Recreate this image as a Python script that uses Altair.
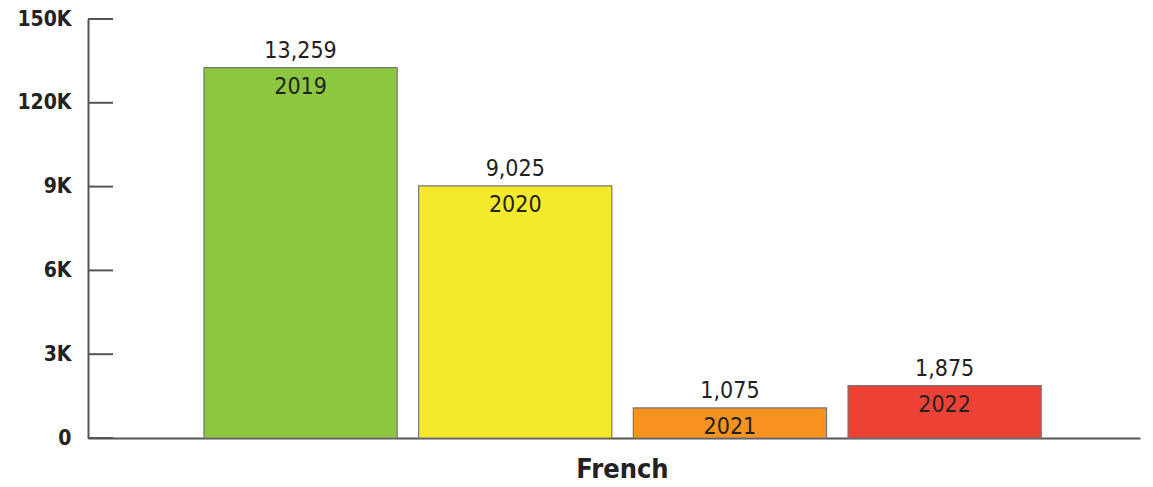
import altair as alt
import pandas as pd

years = ["2019", "2020", "2021", "2022"]
values = [13259, 9025, 1075, 1875]
colors = ["#8DC63F", "#F4E92B", "#F7931E", "#EE4136"]
tick_values = [0, 3000, 6000, 9000, 12000, 15000]
tick_labels = ["0", "3K", "6K", "9K", "120K", "150K"]
category = "French"

FONT = "Liberation Sans Narrow, DejaVu Sans Condensed, Roboto, sans-serif"

df = pd.DataFrame({"year": years, "value": values})
df["label"] = [f"{v:,}" for v in values]
ticks = pd.DataFrame({"t": tick_values})

expr = "''"
for v, l in zip(reversed(tick_values), reversed(tick_labels)):
    expr = f"datum.value == {v} ? '{l}' : ({expr})"

yscale = alt.Scale(domain=[0, 15000], nice=False)

base = alt.Chart(df).encode(
    x=alt.X("year:N", sort=years,
            scale=alt.Scale(paddingInner=0.1, paddingOuter=0.5, align=0.54),
            axis=alt.Axis(title=category, labels=False, ticks=False,
                          domainColor="#555555", domainWidth=2,
                          titleFont=FONT, titleFontSize=27, titleFontWeight="bold",
                          titleColor="#222222", titlePadding=18, titleX=534)),
    y=alt.Y("value:Q", scale=yscale,
            axis=alt.Axis(title=None, values=tick_values, labelExpr=expr,
                          grid=False, ticks=False, domainColor="#555555",
                          domainWidth=2, labelFont=FONT, labelFontSize=21,
                          labelFontWeight="bold", labelColor="#222222",
                          labelPadding=17)),
)

bars = base.mark_bar(stroke="#777777", strokeWidth=1.2).encode(
    color=alt.Color("year:N", scale=alt.Scale(domain=years, range=colors), legend=None)
)
vals = base.mark_text(baseline="bottom", dy=-5, font=FONT, fontSize=23,
                      color="#222222").encode(text="label:N")
yrs = base.mark_text(baseline="top", dy=8, font=FONT, fontSize=23,
                     fontWeight=500, color="#222222").encode(text="year:N")

tick_rules = alt.Chart(ticks).mark_rule(color="#555555", strokeWidth=2).encode(
    y=alt.Y("t:Q", scale=yscale),
    x=alt.value(0), x2=alt.value(25),
)

chart = alt.layer(bars, vals, yrs, tick_rules).properties(
    width=1052, height=419,
    background="white",
    autosize=alt.AutoSizeParams(type="none"),
    padding={"left": 80, "top": 11, "right": 5, "bottom": 50},
).configure_view(stroke=None)

chart.save("out.html", embed_options={"renderer": "svg", "actions": False})
